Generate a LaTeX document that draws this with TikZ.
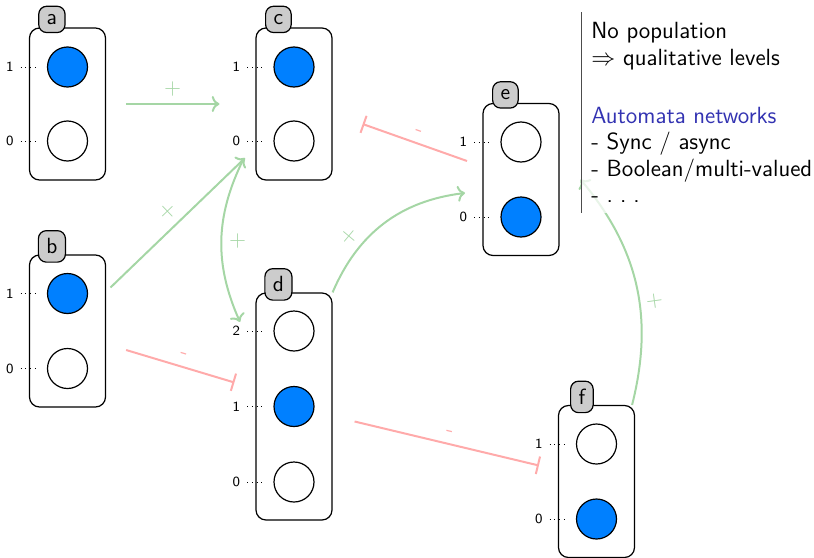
\documentclass[tikz,border=0pt]{standalone}
\usepackage{tikz}
\usetikzlibrary{positioning, calc, arrows.meta}
\definecolor{lvlblue}{RGB}{0,128,255}
\definecolor{actgreen}{RGB}{165,214,165}
\definecolor{inhred}{RGB}{255,170,170}
\definecolor{structblue}{rgb}{0.2,0.2,0.7}
\tikzset{
    gene/.style={
        draw, line width = 0.6pt,
        rounded corners = 5pt,
        minimum width = 38pt,
        minimum height = 76pt
    },
    genetab/.style = {draw, line width = 0.6pt, fill = gray!40, rounded corners = 4pt, inner sep = 4pt},
    lvloff/.style = {draw, circle, line width = 0.6pt, minimum size = 20pt, inner sep = 0pt, fill = white},
    lvlon/.style = {lvloff, fill = lvlblue},
    lvltext/.style = {font = \fontsize{7}{8}\selectfont\sffamily},
    act/.style = {->, actgreen, line width = 1pt},
    inh/.style = {-{Bar[width=9pt]}, inhred, line width = 1pt},
    sign/.style = {midway, above, sloped}
}

\begin{document}
\begin{tikzpicture}[x=0.5pt, y=-0.5pt, font=\fontsize{11}{13.2}\selectfont\sffamily]
    \useasboundingbox (0,0) rectangle (814,557);

    % Gene a
    \node[gene] (a) at (67.5,104) {};
    \node[genetab] at ($(a.north west)+(23,-8)$) {a};
    \node[lvlon] (a1) at ($(a)+(0,-37)$) {};
    \node[lvloff] (a0) at ($(a)+(0,37)$) {};

    % Gene b
    \node[gene] (b) at (67.5,331) {};
    \node[genetab] at ($(b.north west)+(23,-8)$) {b};
    \node[lvlon] (b1) at ($(b)+(0,-37.5)$) {};
    \node[lvloff] (b0) at ($(b)+(0,37.5)$) {};

    % Gene c
    \node[gene] (c) at (294,104) {};
    \node[genetab] at ($(c.north west)+(23,-8)$) {c};
    \node[lvlon] (c1) at ($(c)+(0,-37)$) {};
    \node[lvloff] (c0) at ($(c)+(0,37)$) {};

    % Gene d
    \node[gene, minimum height = 113.5pt] (d) at (294,406.5) {};
    \node[genetab] at ($(d.north west)+(23,-8)$) {d};
    \node[lvloff] (d2) at ($(d)+(0,-75.5)$) {};
    \node[lvlon] (d1) at (d) {};
    \node[lvloff] (d0) at ($(d)+(0,75.5)$) {};

    % Gene e
    \node[gene] (e) at (521,179.5) {};
    \node[genetab] at ($(e.north west)+(23,-8)$) {e};
    \node[lvloff] (e1) at ($(e)+(0,-37.5)$) {};
    \node[lvlon] (e0) at ($(e)+(0,37.5)$) {};

    % Gene f
    \node[gene] (f) at (596.5,481.5) {};
    \node[genetab] at ($(f.north west)+(24,-8)$) {f};
    \node[lvloff] (f1) at ($(f)+(0,-37.5)$) {};
    \node[lvlon] (f0) at ($(f)+(0,37.5)$) {};

    % Levels
    \foreach \lv/\t in {a1/1, a0/0, b1/1, b0/0, c1/1, c0/0, d2/2, d1/1, d0/0, e1/1, e0/0, f1/1, f0/0}
        \draw[dotted] ($(\lv)+(-47,0)$) -- ++(16,0) node[pos=0, left, lvltext] {\t};

    % Interactions
    \draw[act] ($(a.east)+(20,0)$) -- ($(c.west)+(-36,0)$) node[sign] {$+$};
    \draw[act] ($(b1)+(43,-6)$) -- ($(c0)+(-49,17)$) node[sign] {$+$};
    \draw[act] ($(c0)+(-51,19)$) to[bend right=25] node[midway, right] {$+$} ($(d2)+(-54,-9)$);
    \draw[act] (d.north east) to[bend left=30] node[sign, pos=0.3] {$+$} ($(e0)+(-56,-24)$);
    \draw[inh] ($(e1)+(-54,19)$) -- ($(c.east)+(30,20)$) node[sign] {-};
    \draw[inh] ($(b.east)+(20,19)$) -- ($(d.west)+(-21,-24)$) node[sign] {-};
    \draw[inh] ($(d.east)+(22,15)$) -- ($(f.west)+(-19,-16)$) node[sign] {-};
    \draw[act] ($(f.north east)+(-3,0)$) to[bend right=27] node[sign, pos=0.42] {$+$} ($(e.east)+(21,0)$);

    % Notes
    \node[anchor = north west, align = left, inner sep = 5pt,
        font = \fontsize{11.7}{13.2}\selectfont\sffamily,
        fill = white, fill opacity = 0.75, text opacity = 1] (notes) at (581,12)
        {No population\\
         $\Rightarrow$ qualitative levels\\[16pt]
         \textcolor{structblue}{Automata networks}\\
         - Sync / async\\
         - Boolean/multi-valued\\
         - .\kern.3em.\kern.3em.};
    \draw[black!70, line width = 0.5pt] (notes.north west) -- (notes.south west);

\end{tikzpicture}
\end{document}
